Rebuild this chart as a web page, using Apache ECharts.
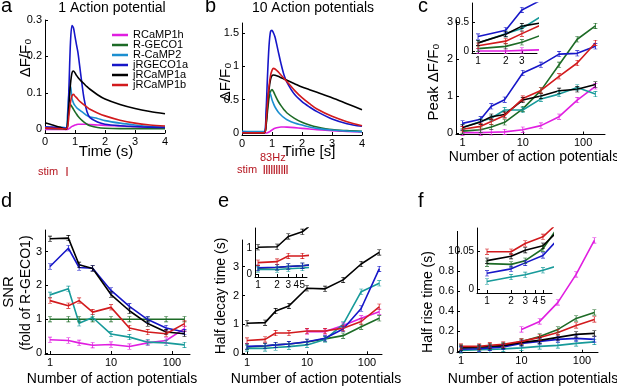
<!DOCTYPE html>
<html>
<head>
<meta charset="utf-8">
<script src="https://cdn.jsdelivr.net/npm/echarts@6/dist/echarts.min.js"></script>
<style>
  html, body { margin: 0; padding: 0; background: #fff; }
  #chart { width: 617px; height: 388px; }
</style>
</head>
<body>
<div id="chart"></div>
<script>
const FONT = "'Liberation Sans', Arial, sans-serif";

const names = ["RCaMP1h", "R-GECO1", "R-CaMP2", "jRGECO1a", "jRCaMP1a", "jRCaMP1b"];
const traceColors = ["#e01ee0", "#1d6b26", "#1c8fd0", "#1616c8", "#000000", "#d21a1d"];
const sumColors = ["#e01ee0", "#1d6b26", "#179a9a", "#1616c8", "#000000", "#d21a1d"];

// a: 1 action potential (dF/F0 vs time, s)
const tA = [0, 0.25, 0.5, 0.7, 0.75, 0.8, 0.85, 0.9, 0.95, 1.0, 1.05, 1.1, 1.2, 1.3, 1.4, 1.5, 1.75, 2.0, 2.5, 3.0, 3.5, 4.0];
const a1h     = [0, 0, 0, 0, 0, 0.002, 0.005, 0.008, 0.010, 0.012, 0.013, 0.014, 0.014, 0.014, 0.014, 0.013, 0.012, 0.011, 0.009, 0.007, 0.006, 0.005];
const aGeco   = [0.003, 0.002, 0.002, 0.001, 0.02, 0.055, 0.068, 0.062, 0.055, 0.048, 0.042, 0.036, 0.027, 0.02, 0.014, 0.01, 0.005, 0.003, 0.002, 0.002, 0.002, 0.002];
const aCamp2  = [0.007, 0.004, 0.006, 0.004, 0.04, 0.1, 0.118, 0.085, 0.072, 0.065, 0.06, 0.056, 0.05, 0.044, 0.038, 0.034, 0.03, 0.024, 0.017, 0.012, 0.008, 0.006];
const aJrgeco = [0.006, 0.006, 0.004, 0.003, 0.01, 0.12, 0.24, 0.285, 0.278, 0.255, 0.232, 0.21, 0.145, 0.085, 0.048, 0.032, 0.02, 0.014, 0.01, 0.008, 0.006, 0.005];
const aJ1a    = [0.018, 0.012, 0.006, 0.0, 0.01, 0.07, 0.125, 0.155, 0.16, 0.155, 0.148, 0.142, 0.133, 0.125, 0.117, 0.11, 0.095, 0.083, 0.068, 0.057, 0.049, 0.043];
const aJ1b    = [0.004, 0.003, 0.002, 0.001, 0.005, 0.04, 0.075, 0.092, 0.096, 0.091, 0.087, 0.082, 0.074, 0.067, 0.061, 0.055, 0.045, 0.037, 0.025, 0.017, 0.012, 0.009];

// b: 10 action potentials
const tB = [0, 0.5, 0.75, 0.8, 0.85, 0.9, 0.95, 1.0, 1.05, 1.1, 1.2, 1.3, 1.4, 1.5, 1.75, 2.0, 2.25, 2.5, 3.0, 3.5, 4.0];
const b1h     = [0, 0, 0, 0, 0.005, 0.015, 0.03, 0.045, 0.06, 0.07, 0.083, 0.09, 0.09, 0.088, 0.08, 0.07, 0.06, 0.05, 0.035, 0.025, 0.015];
const bGeco   = [0.003, 0.002, 0.005, 0.1, 0.32, 0.52, 0.62, 0.65, 0.62, 0.57, 0.48, 0.41, 0.35, 0.3, 0.22, 0.16, 0.12, 0.09, 0.05, 0.035, 0.025];
const bCamp2  = [0.025, 0.02, 0.02, 0.25, 0.5, 0.62, 0.58, 0.5, 0.44, 0.39, 0.32, 0.27, 0.23, 0.2, 0.15, 0.12, 0.09, 0.07, 0.045, 0.03, 0.02];
const bJrgeco = [0.005, 0.003, 0.01, 0.3, 0.85, 1.3, 1.52, 1.54, 1.5, 1.44, 1.24, 1.04, 0.87, 0.76, 0.58, 0.47, 0.39, 0.32, 0.21, 0.14, 0.1];
const bJ1a    = [0.003, 0.002, 0.005, 0.12, 0.4, 0.65, 0.8, 0.86, 0.87, 0.865, 0.85, 0.83, 0.81, 0.79, 0.74, 0.69, 0.65, 0.61, 0.53, 0.44, 0.35];
const bJ1b    = [0.003, 0.002, 0.005, 0.15, 0.45, 0.7, 0.86, 0.94, 0.97, 0.96, 0.92, 0.87, 0.82, 0.77, 0.64, 0.53, 0.44, 0.36, 0.25, 0.17, 0.11];

// number of action potentials
const apCounts = [1, 2, 3, 5, 10, 20, 40, 80, 160];

// c: peak dF/F0
const peak1h     = [0.01, 0.01, 0.02, 0.03, 0.09, 0.2, 0.44, 0.89, 1.26];
const peakGeco   = [0.05, 0.09, 0.16, 0.29, 0.65, 1.15, 1.84, 2.53, 2.89];
const peakCamp2  = [0.15, 0.31, 0.4, 0.62, 0.62, 0.92, 1.05, 1.23, 1.05];
const peakJrgeco = [0.26, 0.37, 0.72, 0.9, 1.62, 1.84, 2.13, 2.15, 2.34];
const peakJ1a    = [0.15, 0.3, 0.44, 0.5, 0.89, 1.0, 1.14, 1.18, 1.31];
const peakJ1b    = [0.1, 0.18, 0.31, 0.47, 0.93, 1.15, 1.53, 1.89, 2.43];

// d: SNR (fold of R-GECO1)
const snr1h     = [0.39, 0.37, 0.3, 0.23, 0.25, 0.19, 0.3, 0.37, 0.72];
const snrGeco   = [1, 1, 1, 1, 1, 1, 1, 1, 1];
const snrCamp2  = [1.72, 1.9, 0.88, 1.05, 0.56, 0.47, 0.32, 0.3, 0.24];
const snrJrgeco = [2.56, 3.1, 2.53, 2.51, 1.85, 1.38, 0.99, 0.74, 0.62];
const snrJ1a    = [3.38, 3.4, 2.61, 2.5, 1.73, 1.25, 0.87, 0.62, 0.57];
const snrJ1b    = [1.55, 1.4, 1.55, 1.21, 1.35, 0.74, 0.62, 0.57, 0.87];

// e: half decay time (s)
const decay1h     = [null, null, null, null, 0.75, 0.75, 0.96, 1.21, 1.44];
const decayGeco   = [0.22, 0.25, 0.29, 0.32, 0.39, 0.5, 0.61, 0.92, 1.21];
const decayCamp2  = [0.17, 0.17, 0.2, 0.23, 0.29, 0.48, 1.0, 2.13, 2.42];
const decayJrgeco = [0.24, 0.26, 0.29, 0.32, 0.4, 0.52, 0.84, 1.55, 2.92];
const decayJ1a    = [1.04, 1.06, 1.46, 1.64, 2.25, 2.23, 2.54, 3.09, 3.49];
const decayJ1b    = [0.44, 0.48, 0.7, 0.7, 0.77, 0.77, 0.87, 1.1, 1.61];

// f: half rise time (s)
const rise1h     = [null, null, null, null, 0.22, 0.3, 0.49, 0.77, 1.11];
const riseGeco   = [0.034, 0.033, 0.038, 0.054, 0.1, 0.15, 0.22, 0.33, 0.39];
const riseCamp2  = [0.01, 0.016, 0.019, 0.025, 0.035, 0.05, 0.06, 0.08, 0.095];
const riseJrgeco = [0.021, 0.027, 0.035, 0.045, 0.08, 0.1, 0.12, 0.13, 0.12];
const riseJ1a    = [0.038, 0.044, 0.052, 0.058, 0.09, 0.11, 0.14, 0.17, 0.18];
const riseJ1b    = [0.05, 0.05, 0.061, 0.07, 0.1, 0.14, 0.19, 0.26, 0.32];

// tick labels
const ticksTime = [0, 1, 2, 3, 4];
const ticksYA = [0, 0.1, 0.2, 0.3];
const ticksYB = [0, 0.5, 1, 1.5];
const ticksY3 = [0, 1, 2, 3];
const ticksYF = [0, 0.2, 0.4, 0.6, 0.8, 1];
const ticksLog = [1, 10, 100];
const ticksInsetC = [1, 2, 3];
const ticksInset = [1, 2, 3, 4, 5];
const ticksYInsetC = [0, 0.5];
const ticksYInsetE = [0, 1];
const ticksYInsetF = [0, 0.05];

const tracesA = [a1h, aGeco, aCamp2, aJrgeco, aJ1a, aJ1b];
const tracesB = [b1h, bGeco, bCamp2, bJrgeco, bJ1a, bJ1b];
const peaks = [peak1h, peakGeco, peakCamp2, peakJrgeco, peakJ1a, peakJ1b];
const snrs = [snr1h, snrGeco, snrCamp2, snrJrgeco, snrJ1a, snrJ1b];
const decays = [decay1h, decayGeco, decayCamp2, decayJrgeco, decayJ1a, decayJ1b];
const rises = [rise1h, riseGeco, riseCamp2, riseJrgeco, riseJ1a, riseJ1b];

// small I-beam marker, looks like the matlab error bars
const ERRBAR = "path://M0,0H5V1H3V9H5V10H0V9H2V1H0Z";

const grids = [
  { left: 45, top: 20, width: 120, height: 113 },      // 0 a
  { left: 242, top: 23, width: 120, height: 112 },     // 1 b
  { left: 456, top: 20, width: 149, height: 114.5 },   // 2 c
  { left: 472, top: 3, width: 65, height: 50 },        // 3 c inset
  { left: 45, top: 230, width: 145, height: 124 },     // 4 d
  { left: 242, top: 240, width: 140, height: 114.3 },  // 5 e
  { left: 255, top: 228, width: 52, height: 49 },      // 6 e inset
  { left: 457, top: 231.4, width: 141, height: 121.3 },// 7 f
  { left: 477, top: 228, width: 75, height: 65 }       // 8 f inset
].map(g => Object.assign({ containLabel: false, outerBoundsMode: "none" }, g));

function axis(type, gridIndex, min, max, ticks, fontSize) {
  const a = {
    type: type, gridIndex: gridIndex, min: min, max: max,
    axisLine: { show: true, onZero: false, lineStyle: { color: "#000", width: 1 } },
    axisTick: { show: true, inside: true, length: 3, customValues: ticks, lineStyle: { color: "#000" } },
    axisLabel: { customValues: ticks, color: "#000", fontSize: fontSize, fontFamily: FONT, margin: 3 },
    splitLine: { show: false }
  };
  if (type === "log") a.logBase = 10;
  return a;
}

const xAxes = [
  axis("value", 0, 0, 4, ticksTime, 11),
  axis("value", 1, 0, 4, ticksTime, 11),
  axis("log", 2, 0.78, 231, ticksLog, 11),
  axis("log", 3, 0.86, 4.38, ticksInsetC, 10),
  axis("log", 4, 0.828, 197, ticksLog, 11),
  axis("log", 5, 0.825, 178, ticksLog, 11),
  axis("log", 6, 0.897, 5.92, ticksInset, 10),
  axis("log", 7, 0.86, 184, ticksLog, 11),
  axis("log", 8, 0.75, 6.49, ticksInset, 10)
];
const yAxes = [
  axis("value", 0, -0.01, 0.3, ticksYA, 11),
  axis("value", 1, -0.03, 1.65, ticksYB, 11),
  axis("value", 2, -0.04, 3.05, ticksY3, 11),
  axis("value", 3, -0.025, 0.84, ticksYInsetC, 10),
  axis("value", 4, -0.03, 3.64, ticksY3, 11),
  axis("value", 5, -0.035, 3.92, ticksY3, 11),
  axis("value", 6, -0.12, 1.79, ticksYInsetE, 10),
  axis("value", 7, -0.013, 1.2, ticksYF, 11),
  axis("value", 8, -0.0054, 0.0818, ticksYInsetF, 10)
];

function traceSeries(idx, name, color, t, v) {
  return {
    type: "line", name: name, xAxisIndex: idx, yAxisIndex: idx,
    data: t.map((x, i) => [x, v[i]]),
    showSymbol: false, smooth: 0.3, silent: true,
    lineStyle: { color: color, width: 1.6 }, itemStyle: { color: color }
  };
}

function countSeries(idx, name, color, v) {
  const data = [];
  apCounts.forEach((x, i) => { if (v[i] != null) data.push([x, v[i]]); });
  return {
    type: "line", name: name, xAxisIndex: idx, yAxisIndex: idx, data: data,
    symbol: ERRBAR, symbolSize: [4, 6], showSymbol: true, silent: true, clip: true,
    lineStyle: { color: color, width: 1.6 }, itemStyle: { color: color }
  };
}

const series = [];
names.forEach((n, i) => series.push(traceSeries(0, n, traceColors[i], tA, tracesA[i])));
names.forEach((n, i) => series.push(traceSeries(1, n, traceColors[i], tB, tracesB[i])));
names.forEach((n, i) => {
  series.push(countSeries(2, n, sumColors[i], peaks[i]));
  series.push(countSeries(3, n, sumColors[i], peaks[i]));
  series.push(countSeries(4, n, sumColors[i], snrs[i]));
  series.push(countSeries(5, n, sumColors[i], decays[i]));
  series.push(countSeries(6, n, sumColors[i], decays[i]));
  series.push(countSeries(7, n, sumColors[i], rises[i]));
  series.push(countSeries(8, n, sumColors[i], rises[i]));
});

function txt(x, y, text, size, opts) {
  return Object.assign({
    type: "text", x: x, y: y, silent: true,
    style: Object.assign({
      text: text, fontSize: size, fontFamily: FONT, fill: "#000",
      align: "center", verticalAlign: "middle"
    }, (opts && opts.style) || {})
  }, (opts && opts.rotation) ? { rotation: opts.rotation } : {});
}
const V = { rotation: Math.PI / 2 };
const L = { style: { align: "left" } };
const STIM = "#b5151f";

const texts = [
  txt(1, 6, "a", 20, L), txt(205, 6, "b", 20, L), txt(418, 6, "c", 20, L),
  txt(1, 201, "d", 20, L), txt(218, 201, "e", 20, L), txt(418, 201, "f", 20, L),
  txt(112, 8, "1 Action potential", 14),
  txt(313, 8, "10 Action potentials", 14),
  txt(26, 58, "ΔF/F₀", 15, V),
  txt(226, 82, "ΔF/F₀", 15, V),
  txt(434, 82, "Peak ΔF/F₀", 15, V),
  txt(9, 292, "SNR", 15, V),
  txt(26, 293, "(fold of R-GECO1)", 14, V),
  txt(221, 296, "Half decay time (s)", 14, V),
  txt(428, 302, "Half rise time (s)", 14, V),
  txt(106, 152, "Time (s)", 15),
  txt(309, 152, "Time [s]", 15),
  txt(534, 157, "Number of action potentials", 14),
  txt(112, 379, "Number of action potentials", 14),
  txt(316, 379, "Number of action potentials", 14),
  txt(533, 379, "Number of action potentials", 14),
  txt(38, 172, "stim", 11, { style: { align: "left", fill: STIM } }),
  txt(67, 172, "|", 9, { style: { fill: STIM, fontWeight: "bold" } }),
  txt(237, 170, "stim", 11, { style: { align: "left", fill: STIM } }),
  txt(260, 158, "83Hz", 11, { style: { align: "left", fill: STIM } }),
  txt(263, 170, "||||||||||", 9, { style: { align: "left", fill: STIM, fontWeight: "bold" } })
];

const chart = echarts.init(document.getElementById("chart"), null, { renderer: "canvas" });
chart.setOption({
  backgroundColor: "#fff",
  animation: false,
  textStyle: { fontFamily: FONT },
  grid: grids,
  xAxis: xAxes,
  yAxis: yAxes,
  legend: {
    data: names, orient: "vertical", left: 107, top: 24.5,
    icon: "rect", itemWidth: 16, itemHeight: 2.5, itemGap: -1,
    selectedMode: false,
    textStyle: { fontSize: 11, fontFamily: FONT, color: "#000", lineHeight: 11 }
  },
  graphic: texts,
  series: series
});
</script>
</body>
</html>
